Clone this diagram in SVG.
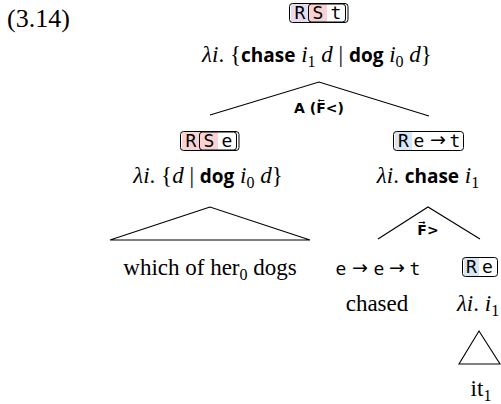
<svg xmlns="http://www.w3.org/2000/svg" width="501" height="404" viewBox="0 0 501 404">
<style>
.s{font-family:"Liberation Serif",serif;font-size:23px;fill:#000}
.i{font-style:italic}
.b{font-family:"Open Sans","DejaVu Sans",sans-serif;font-weight:bold;font-size:19px}
.sub{font-size:16px}
.m{font-family:"DejaVu Sans Mono",monospace;font-size:18px;fill:#000}
.ar{font-family:"DejaVu Sans",sans-serif;font-size:19px;fill:#000}
.lab{font-family:"DejaVu Sans",sans-serif;font-weight:bold;font-size:14px}
.bx{fill:none;stroke:#000;stroke-width:1}
.ln{stroke:#000;stroke-width:1.1;fill:none}
</style>
<text class="s" x="7" y="27" style="font-size:26px">(3.14)</text>
<g id="root">
<rect x="291" y="4" width="18" height="18" fill="#e6dcef"/>
<rect x="309" y="4" width="18" height="18" fill="#f9d3d3"/>
<rect class="bx" x="289.5" y="3.5" width="58.5" height="19" rx="3"/>
<rect class="bx" x="308.5" y="4" width="37" height="18" rx="3"/>
<text class="m" x="300" y="19" text-anchor="middle">R</text>
<text class="m" x="318" y="19" text-anchor="middle">S</text>
<text class="m" x="336" y="19" text-anchor="middle">t</text>
<text class="s" x="317" y="62" text-anchor="middle"><tspan class="i">λi</tspan>. {<tspan class="b">chase</tspan> <tspan class="i">i</tspan><tspan class="sub" dy="5">1</tspan><tspan dy="-5"> </tspan><tspan class="i">d</tspan> | <tspan class="b">dog</tspan> <tspan class="i">i</tspan><tspan class="sub" dy="5">0</tspan><tspan dy="-5"> </tspan><tspan class="i">d</tspan>}</text>
</g>
<g id="left">
<rect x="182" y="132" width="18" height="18" fill="#f9d3d3"/>
<rect x="200" y="132" width="18" height="18" fill="#f9d3d3"/>
<rect class="bx" x="180.5" y="131.5" width="58.5" height="19" rx="3"/>
<rect class="bx" x="199.5" y="132" width="37" height="18" rx="3"/>
<text class="m" x="191" y="147" text-anchor="middle">R</text>
<text class="m" x="209" y="147" text-anchor="middle">S</text>
<text class="m" x="227" y="147" text-anchor="middle">e</text>
<text class="s" x="208" y="183" text-anchor="middle"><tspan class="i">λi</tspan>. {<tspan class="i">d</tspan> | <tspan class="b">dog</tspan> <tspan class="i">i</tspan><tspan class="sub" dy="5">0</tspan><tspan dy="-5"> </tspan><tspan class="i">d</tspan>}</text>
</g>
<g id="left-leaf">
<text class="s" x="210" y="275" text-anchor="middle">which of her<tspan class="sub" dy="5">0</tspan><tspan dy="-5"> dogs</tspan></text>
</g>
<g id="right">
<rect x="395" y="132" width="17" height="18" fill="#d6e6f2"/>
<rect class="bx" x="393.5" y="131.5" width="70" height="19" rx="3"/>
<text class="m" x="403.5" y="147" text-anchor="middle">R</text>
<text class="m" x="419" y="147" text-anchor="middle">e</text>
<text class="ar" x="438" y="146" text-anchor="middle">→</text>
<text class="m" x="455" y="147" text-anchor="middle">t</text>
<text class="s" x="428" y="183" text-anchor="middle"><tspan class="i">λi</tspan>. <tspan class="b">chase</tspan> <tspan class="i">i</tspan><tspan class="sub" dy="5">1</tspan></text>
</g>
<g id="chased">
<text class="m" x="341" y="275" text-anchor="middle">e</text>
<text class="ar" x="360" y="274" text-anchor="middle">→</text>
<text class="m" x="379" y="275" text-anchor="middle">e</text>
<text class="ar" x="397" y="274" text-anchor="middle">→</text>
<text class="m" x="415" y="275" text-anchor="middle">t</text>
<text class="s" x="377" y="311" text-anchor="middle">chased</text>
</g>
<g id="it">
<rect x="464" y="258" width="15" height="18" fill="#d6e6f2"/>
<rect class="bx" x="462.5" y="257.5" width="35" height="19" rx="3"/>
<text class="m" x="471.5" y="273" text-anchor="middle">R</text>
<text class="m" x="487.5" y="273" text-anchor="middle">e</text>
<text class="s" x="478" y="311" text-anchor="middle"><tspan class="i">λi</tspan>. <tspan class="i">i</tspan><tspan class="sub" dy="5">1</tspan></text>
</g>
<g id="it-leaf">
<text class="s" x="481" y="396" text-anchor="middle">it<tspan class="sub" dy="5">1</tspan></text>
</g>
<g id="connectors">
<polyline class="ln" points="210,115 319,82 429,116"/>
<text class="lab" x="319" y="113" text-anchor="middle">A (F⃖&lt;)</text>
<polygon class="ln" points="210,207 110,240 310,240"/>
<polyline class="ln" points="378,239 428,207 480,239"/>
<text class="lab" x="428" y="235" text-anchor="middle">F⃗&gt;</text>
<polygon class="ln" points="479,331 459,364 500,364"/>
</g>
</svg>
